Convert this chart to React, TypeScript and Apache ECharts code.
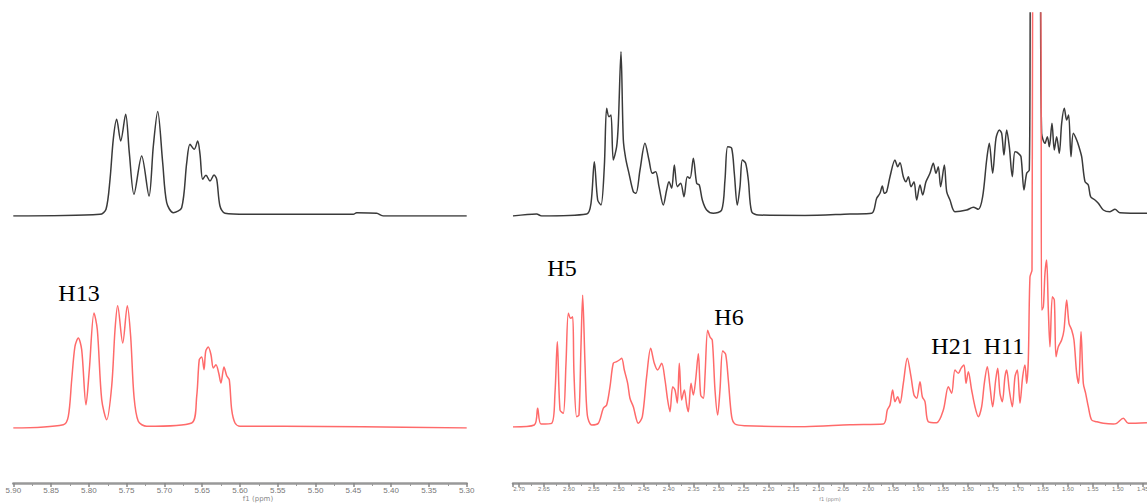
import React, { useEffect, useRef } from "react";
import * as echarts from "echarts";

// ---------- Data (chemical shift in ppm, intensity in arbitrary units) ----------
const leftBlackPpm = [5.900, 5.7853, 5.7773, 5.7720, 5.7677, 5.7632, 5.7579, 5.7513, 5.7465, 5.7403, 5.7301, 5.7204, 5.7147, 5.7089, 5.7023, 5.6970, 5.6883, 5.6772, 5.6705, 5.6662, 5.6605, 5.6560, 5.6529, 5.6494, 5.6450, 5.6397, 5.6344, 5.6308, 5.6265, 5.6199, 5.5911, 5.4501, 5.4456, 5.4191, 5.4104, 5.300];
const leftBlackInt = [0, 1.7, 6.7, 36.7, 76.7, 96.7, 75, 101.7, 63.3, 21.7, 60, 20, 70, 104.4, 53.3, 13.3, 3.3, 8.3, 53.3, 71.7, 66.7, 75, 61.7, 36.7, 40.7, 35, 41, 36.7, 10, 2.7, 1.7, 1.7, 3.3, 2.7, 0, 0];

const leftRedPpm = [5.900, 5.8338, 5.8272, 5.8227, 5.8184, 5.8140, 5.8095, 5.8038, 5.7994, 5.7932, 5.7888, 5.7830, 5.7764, 5.7698, 5.7654, 5.7619, 5.7552, 5.7491, 5.7447, 5.7403, 5.7346, 5.7235, 5.6639, 5.6573, 5.6539, 5.6507, 5.6476, 5.6454, 5.6420, 5.6384, 5.6353, 5.6318, 5.6282, 5.6252, 5.6212, 5.6176, 5.6142, 5.6110, 5.6066, 5.6000, 5.5427, 5.300];
const leftRedInt = [0, 3.3, 11.7, 48.3, 81.7, 90, 78.3, 23.3, 58.3, 115, 98.3, 28.3, 8.3, 41.7, 98.3, 122.3, 85, 122.3, 91.7, 31.7, 6.7, 1.7, 5, 31.7, 68.3, 71, 58.3, 76.7, 81, 73.3, 60, 63.3, 55, 45, 61, 52.3, 48.3, 18.3, 5, 1.7, 1.7, 0];

const rightBlackPpm = [2.712, 2.6646, 2.6546, 2.5644, 2.5557, 2.5490, 2.5423, 2.5357, 2.5290, 2.5243, 2.5196, 2.5156, 2.5110, 2.5043, 2.5009, 2.4956, 2.4909, 2.4862, 2.4796, 2.4709, 2.4655, 2.4575, 2.4475, 2.4395, 2.4328, 2.4261, 2.4194, 2.4108, 2.4041, 2.3994, 2.3940, 2.3887, 2.3827, 2.3760, 2.3693, 2.3627, 2.3573, 2.3506, 2.3439, 2.3386, 2.3326, 2.3239, 2.3106, 2.2938, 2.2872, 2.2818, 2.2738, 2.2685, 2.2625, 2.2571, 2.2524, 2.2458, 2.2404, 2.2337, 2.2204, 2.1269,
  2.0367, 1.9933, 1.9832, 1.9766, 1.9719, 1.9679, 1.9632, 1.9565, 1.9465, 1.9411, 1.9365, 1.9298, 1.9244, 1.9198, 1.9144, 1.9084, 1.9031, 1.8964, 1.8910, 1.8844, 1.8764, 1.8697, 1.8643, 1.8597, 1.8550, 1.8476, 1.8429, 1.8363, 1.8263, 1.8029, 1.7895, 1.7795, 1.7708, 1.7628, 1.7575, 1.7508, 1.7441, 1.7374, 1.7327, 1.7281, 1.7227, 1.7174, 1.7114, 1.7060, 1.6993, 1.6940, 1.6880, 1.6826, 1.6773, 1.6726, 1.6586, 1.6526, 1.6459, 1.6412, 1.6372, 1.6319, 1.6272, 1.6225, 1.6172, 1.6125, 1.6072, 1.6025, 1.5985, 1.5938, 1.5891, 1.5824, 1.5778, 1.5724, 1.5657, 1.5591, 1.5544, 1.5457, 1.5390, 1.5290, 1.5156, 1.5056, 1.4956, 1.4415];
const rightBlackInt = [0, 2, 0, 2, 12.7, 54.3, 16, 11, 49.3, 107.7, 99.3, 101, 56, 69.3, 92.7, 164.3, 76, 57.7, 42.7, 24.3, 22.7, 46, 72.7, 56, 42.7, 44.3, 29.3, 11, 26, 34.3, 27.7, 51, 29.3, 32.7, 19.3, 39.3, 37.7, 57.7, 32.7, 31, 16, 6, 2.7, 6, 36, 69.3, 67.7, 42.7, 11, 29.3, 56, 52.7, 36, 4.3, 1, 0.5,
  2, 2.7, 17.7, 22.7, 30, 22.7, 24.3, 39.3, 56, 49.3, 53.3, 39.3, 34.3, 39.3, 29.3, 34.3, 16, 31, 21, 34.3, 42.7, 52.7, 42.7, 49.3, 29.3, 51, 24.3, 16, 4.3, 6, 8.7, 6.7, 19.3, 56, 72.7, 42.7, 77.7, 86, 82.7, 61, 86, 69.3, 39.3, 64.3, 62.7, 59.3, 26, 42.7, 46, 300, 300, 82.7, 72.7, 79.3, 69.3, 92.7, 66, 79.3, 62.7, 92.7, 107.7, 96, 101, 59.3, 82.7, 76, 69.3, 59.3, 34.3, 31, 19.3, 16, 12.7, 6, 4.3, 6.7, 3.3, 2.7];

const rightRedPpm = [2.712, 2.6693, 2.6626, 2.6559, 2.6345, 2.6279, 2.6232, 2.6178, 2.6112, 2.6058, 2.6011, 2.5965, 2.5924, 2.5898, 2.5844, 2.5798, 2.5758, 2.5724, 2.5677, 2.5631, 2.5544, 2.5410, 2.5310, 2.5243, 2.5176, 2.5110, 2.5043, 2.4989, 2.4942, 2.4889, 2.4822, 2.4776, 2.4709, 2.4609, 2.4528, 2.4442, 2.4361, 2.4288, 2.4221, 2.4141, 2.4074, 2.4021, 2.3974, 2.3920, 2.3874, 2.3827, 2.3787, 2.3740, 2.3687, 2.3640, 2.3607, 2.3553, 2.3506, 2.3460, 2.3406, 2.3359, 2.3306, 2.3273, 2.3219, 2.3172, 2.3126, 2.3072, 2.3019, 2.2972, 2.2918, 2.2858, 2.2805, 2.2738, 2.2671, 2.2471, 2.1269,
  2.0367, 1.9699, 1.9619, 1.9565, 1.9512, 1.9465, 1.9411, 1.9365, 1.9298, 1.9218, 1.9144, 1.9084, 1.9031, 1.8964, 1.8917, 1.8864, 1.8797, 1.8630, 1.8496, 1.8396, 1.8329, 1.8263, 1.8196, 1.8142, 1.8082, 1.8042, 1.7995, 1.7929, 1.7862, 1.7795, 1.7728, 1.7675, 1.7615, 1.7561, 1.7508, 1.7447, 1.7407, 1.7361, 1.7314, 1.7261, 1.7227, 1.7174, 1.7114, 1.7060, 1.7013, 1.6960, 1.6906, 1.6860, 1.6826, 1.6793, 1.6760, 1.6719, 1.6706, 1.6546, 1.6526, 1.6492, 1.6459, 1.6426, 1.6392, 1.6359, 1.6312, 1.6272, 1.6238, 1.6192, 1.6125, 1.6078, 1.6025, 1.5978, 1.5924, 1.5878, 1.5824, 1.5784, 1.5737, 1.5691, 1.5644, 1.5591, 1.5524, 1.5423, 1.5290, 1.5090, 1.5023, 1.4889, 1.4789, 1.4415];
const rightRedInt = [0, 2, 18.7, 3, 3.7, 33.7, 85.3, 17, 13.7, 63.7, 113.7, 108.7, 110.3, 53.7, 10.3, 12, 80, 131.7, 63.3, 12, 2, 3.7, 18.7, 22, 40.3, 63.7, 65.3, 67, 68.7, 57, 43.7, 28.7, 20.3, 3.7, 10.3, 50.3, 78.7, 63.7, 57, 63.7, 47, 27, 15.3, 40.3, 37, 24, 63.7, 27, 37, 22, 15.3, 43.7, 32, 47, 73.3, 32, 28.7, 50.3, 96.7, 90, 86.7, 37, 12, 37, 76, 72.7, 47, 10.3, 3, 1.3, 0.3,
  2.3, 3, 17, 22, 37, 25.3, 30.3, 23.7, 43.7, 68.7, 50.3, 32, 28.7, 45.3, 30.3, 25.3, 5.3, 4.3, 17, 40.3, 33.7, 57, 53.7, 58.7, 62, 43.7, 55.3, 37, 20.3, 10.3, 20.3, 43.7, 60.3, 40.3, 20.3, 47, 58.7, 33.7, 25.3, 50.3, 57, 37, 20.3, 50.3, 57, 23.7, 50.3, 62, 43.7, 67, 150, 157, 450, 450, 117, 120.3, 153.7, 167, 117, 80.3, 130.3, 127, 70.3, 80.3, 87, 97, 127, 103.7, 97, 87, 53.7, 43.7, 95.3, 43.7, 33.7, 20.3, 7, 5.3, 3.7, 3, 3.7, 8.7, 3.7, 4.3];

const leftTicks = { min: 5.30, max: 5.90, step: 0.05 };
const rightTicks = { min: 1.40, max: 2.712, step: 0.05 };

const labels = [
  { text: "H13", x: 79, y: 292.5 },
  { text: "H5", x: 562, y: 268 },
  { text: "H6", x: 729, y: 317 },
  { text: "H21", x: 952, y: 346 },
  { text: "H11", x: 1004, y: 346 },
];

const zip = (p: number[], v: number[]) => p.map((x, i) => [x, v[i]]);

const BLACK = "#3a3a3a";
const RED = "#ff6a6a";

export default function App() {
  const ref = useRef<HTMLDivElement>(null);
  useEffect(() => {
    document.body.style.margin = "0";
    document.body.style.overflow = "hidden";
    const chart = echarts.init(ref.current!, null, { renderer: "svg" });

    const LX = 13.3;
    const LW = 453.4;
    const RX = 513;
    const RW = (rightTicks.max - rightTicks.min) * 499;

    const grids = [
      { left: LX, top: 13, width: LW, height: 203 },
      { left: LX, top: 13, width: LW, height: 415 },
      { left: RX, top: 13, width: RW, height: 203 },
      { left: RX, top: 13, width: RW, height: 414 },
    ].map((g) => ({ ...g, outerBoundsMode: "none", containLabel: false }));

    const mkX = (gi: number, t: any, show: boolean, offset: number, fs: number, isLeft: boolean) => ({
      type: "value",
      gridIndex: gi,
      min: t.min,
      max: t.max,
      interval: t.step,
      inverse: true,
      show,
      position: "bottom",
      offset,
      axisLine: { show: true, onZero: false, lineStyle: { color: "#999", width: 2.5 } },
      axisTick: { show: true, length: 4, lineStyle: { color: "#888", width: 1.5 } },
      minorTick: { show: true, splitNumber: 2, length: 3, lineStyle: { color: "#999", width: 1 } },
      splitLine: { show: false },
      axisLabel: {
        show: true,
        fontSize: fs,
        color: "#777",
        margin: 3,
        showMaxLabel: isLeft,
        showMinLabel: isLeft,
        formatter: (v: number) => v.toFixed(2),
      },
    });

    const xAxes = [
      mkX(0, leftTicks, false, 0, 8, true),
      mkX(1, leftTicks, true, 55, 8, true),
      mkX(2, rightTicks, false, 0, 6, false),
      mkX(3, rightTicks, true, 56, 6, false),
    ];
    const yAxes = grids.map((g, i) => ({
      type: "value",
      gridIndex: i,
      min: 0,
      max: g.height,
      show: false,
      splitLine: { show: false },
    }));

    const mkS = (i: number, data: number[][], color: string) => ({
      type: "line",
      xAxisIndex: i,
      yAxisIndex: i,
      data,
      symbol: "none",
      showSymbol: false,
      smooth: 0.3,
      clip: true,
      lineStyle: { color, width: 1.5 },
      silent: true,
    });

    const serif = "'Liberation Serif', 'Times New Roman', serif";
    const sans = "'DejaVu Sans', sans-serif";

    chart.setOption({
      animation: false,
      grid: grids,
      xAxis: xAxes,
      yAxis: yAxes,
      series: [
        mkS(0, zip(leftBlackPpm, leftBlackInt), BLACK),
        mkS(2, zip(rightBlackPpm, rightBlackInt), BLACK),
        mkS(1, zip(leftRedPpm, leftRedInt), RED),
        mkS(3, zip(rightRedPpm, rightRedInt), RED),
      ],
      graphic: [
        ...labels.map((l) => ({
          type: "text",
          x: l.x,
          y: l.y,
          style: {
            text: l.text,
            fill: "#000",
            fontFamily: serif,
            fontSize: 24,
            textAlign: "center",
            textVerticalAlign: "middle",
            align: "center",
            verticalAlign: "middle",
          },
        })),
        {
          type: "text",
          x: 258,
          y: 499,
          style: { text: "f1 (ppm)", fill: "#888", fontFamily: sans, fontSize: 7, textAlign: "center", textVerticalAlign: "middle", align: "center", verticalAlign: "middle" },
        },
        {
          type: "text",
          x: 830,
          y: 499,
          style: { text: "f1 (ppm)", fill: "#888", fontFamily: sans, fontSize: 5, textAlign: "center", textVerticalAlign: "middle", align: "center", verticalAlign: "middle" },
        },
      ],
    });
    return () => chart.dispose();
  }, []);
  return <div ref={ref} style={{ width: 1147, height: 503 }} />;
}
